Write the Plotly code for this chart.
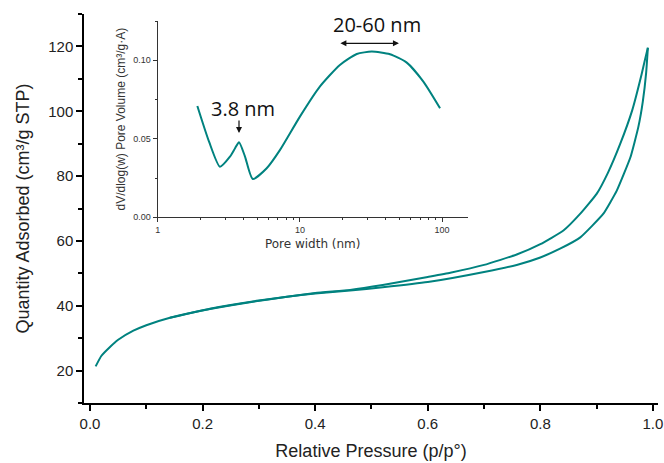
import plotly.graph_objects as go
import numpy as np

# Main isotherm: adsorption branch
ads_p = [0.010, 0.020, 0.035, 0.050, 0.077, 0.100, 0.142, 0.213, 0.284, 0.350, 0.400,
         0.462, 0.520, 0.600, 0.700, 0.758, 0.800, 0.835, 0.871, 0.912, 0.936,
         0.960, 0.974, 0.982, 0.988, 0.991]
ads_q = [21.3, 24.5, 27.2, 29.5, 32.3, 34.0, 36.3, 39.0, 41.1, 42.8, 43.8,
         44.7, 45.7, 47.3, 50.4, 52.6, 54.9, 57.6, 61.1, 68.4, 75.6,
         85.8, 95.1, 103.0, 112.0, 119.6]
# Desorption branch
des_p = [0.991, 0.986, 0.980, 0.963, 0.942, 0.920, 0.900, 0.871, 0.841, 0.800, 0.758,
         0.700, 0.640, 0.600, 0.520, 0.462, 0.400, 0.300, 0.213, 0.142]
des_q = [119.6, 116.0, 111.5, 100.2, 90.0, 81.0, 74.5, 68.4, 63.2, 59.0, 55.8,
         52.6, 50.2, 48.9, 46.4, 44.9, 43.9, 41.6, 39.1, 36.3]

# Inset: pore size distribution
pw = [1.90, 2.30, 2.74, 3.22, 3.50, 3.73, 4.10, 4.66, 5.84, 7.25, 10.0, 13.8, 19.1,
      25.1, 32.0, 43.0, 56.4, 73.8, 96.7]
dv = [0.0709, 0.0480, 0.0322, 0.0386, 0.0440, 0.0478, 0.0390, 0.0244, 0.0312, 0.0429,
      0.0641, 0.0832, 0.0970, 0.1040, 0.1055, 0.1038, 0.0985, 0.0864, 0.0694]

teal = "#00827F"
fig = go.Figure()
fig.add_trace(go.Scatter(x=ads_p, y=ads_q, mode="lines", line=dict(color=teal, width=2, shape="spline", smoothing=0.4),
                         showlegend=False))
fig.add_trace(go.Scatter(x=des_p, y=des_q, mode="lines", line=dict(color=teal, width=2, shape="spline", smoothing=0.4),
                         showlegend=False))
fig.add_trace(go.Scatter(x=pw, y=dv, mode="lines", xaxis="x2", yaxis="y2",
                         line=dict(color=teal, width=2, shape="spline", smoothing=0.6), showlegend=False))

FAM = "Arial, Liberation Sans, sans-serif"
axfont = dict(family=FAM, size=15, color="#222")
minor_log = [2, 3, 4, 5, 6, 7, 8, 9, 20, 30, 40, 50, 60, 70, 80, 90]
fig.update_layout(
    width=664, height=463,
    margin=dict(l=84, r=6, t=14, b=60),
    paper_bgcolor="white", plot_bgcolor="white",
    xaxis=dict(range=[-0.0107, 1.009], showline=True, linecolor="black", linewidth=1.5,
               ticks="outside", ticklen=6, tickwidth=1.5, tickcolor="black", automargin=False,
               tick0=0, dtick=0.2, tickformat=".1f", showgrid=False, zeroline=False,
               minor=dict(ticks="outside", ticklen=4, tickwidth=1.5, tickcolor="black", dtick=0.1, showgrid=False),
               tickfont=axfont,
               title=dict(text="Relative Pressure (p/p°)", font=dict(family=FAM, size=18, color="#222"), standoff=14)),
    yaxis=dict(range=[10, 130], showline=True, linecolor="black", linewidth=1.5,
               ticks="outside", ticklen=6, tickwidth=1.5, tickcolor="black", automargin=False,
               tick0=0, dtick=20, showgrid=False, zeroline=False,
               minor=dict(ticks="outside", ticklen=4, tickwidth=1.5, tickcolor="black", dtick=10, showgrid=False),
               tickfont=axfont,
               title=dict(text="Quantity Adsorbed (cm³/g STP)", font=dict(family=FAM, size=18, color="#222"), standoff=14)),
    xaxis2=dict(type="log", domain=[0.1284, 0.6685], anchor="y2", range=[0, 2.18], automargin=False,
                showline=True, linecolor="#333", linewidth=1, ticks="outside", ticklen=4, tickcolor="#333",
                tickvals=[1, 10, 100], ticktext=["1", "10", "100"], showgrid=False, zeroline=False,
                minor=dict(ticks="outside", ticklen=2, tickcolor="#333", showgrid=False,
                           tickmode="array", tickvals=minor_log),
                tickfont=dict(family=FAM, size=9, color="#333"),
                title=dict(text="Pore width (nm)", font=dict(family="DejaVu Sans, sans-serif", size=12, color="#333"), standoff=5)),
    yaxis2=dict(domain=[0.4774, 0.982], anchor="x2", range=[0, 0.125], automargin=False,
                showline=True, linecolor="#333", linewidth=1, ticks="outside", ticklen=4, tickcolor="#333",
                tick0=0, dtick=0.05, tickformat=".2f", showgrid=False, zeroline=False,
                minor=dict(ticks="outside", ticklen=2, tickcolor="#333", dtick=0.025, showgrid=False),
                tickfont=dict(family=FAM, size=9, color="#333"),
                title=dict(text="dV/dlog(w) Pore Volume (cm³/g·A)", font=dict(family=FAM, size=12, color="#333"), standoff=5)),
)

annfont = dict(family="Open Sans, sans-serif", size=20, color="#111")
fig.add_annotation(x=1.540, y=0.1225, xref="x2", yref="y2", text="20-60 nm", showarrow=False, font=annfont)
fig.add_annotation(x=np.log10(49.7), y=0.1108, ax=np.log10(18.8), ay=0.1108, xref="x2", yref="y2",
                   axref="x2", ayref="y2", text="", showarrow=True, arrowhead=2, arrowside="end+start",
                   arrowsize=1, arrowwidth=1.2, arrowcolor="#111")
fig.add_annotation(x=0.600, y=0.0696, xref="x2", yref="y2", text="3.8 nm", showarrow=False, font=annfont)
fig.add_annotation(x=np.log10(3.73), y=0.0537, ax=0, ay=-14, xref="x2", yref="y2", text="",
                   showarrow=True, arrowhead=2, arrowsize=1, arrowwidth=1.2, arrowcolor="#111")

fig.write_html("out.html", config={"displayModeBar": False},
               post_script="document.body.style.margin='0';document.body.style.overflow='hidden';")
